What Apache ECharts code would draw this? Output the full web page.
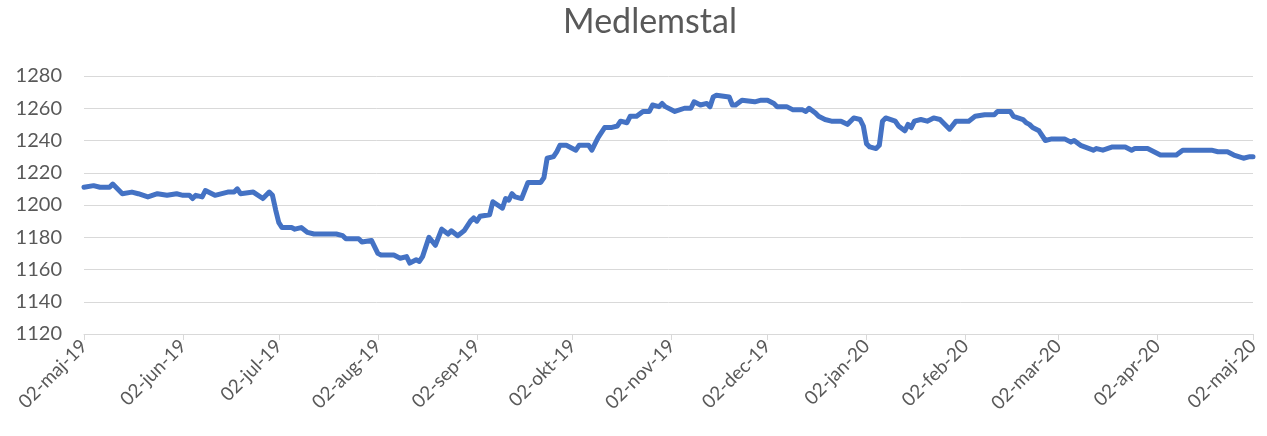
<!DOCTYPE html>
<html>
<head>
    <meta charset="utf-8">
    <script src="https://cdn.jsdelivr.net/npm/echarts@6/dist/echarts.min.js"></script>
    <style>body{margin:0}</style>
</head>
<body>
<div id="chart" style="width:1267px;height:436px"></div>
<script type="text/javascript">
    // months in Danish, used for the daily category labels
    var monthNames = ['jan', 'feb', 'mar', 'apr', 'maj', 'jun', 'jul', 'aug', 'sep', 'okt', 'nov', 'dec'];
    var startDate = [2019, 4, 2];   // 02-maj-19
    var dayCount = 367;             // to 02-maj-20

    // readings: days since 02-maj-19 and the member count that day
    var days = [0, 3, 5, 8, 9, 12, 15, 17, 20, 23, 26, 29, 31, 33, 34, 35, 37, 38, 41, 45,
        47, 48, 49, 53, 56, 58, 59, 60, 61, 62, 65, 66, 68, 70, 72, 79, 81, 82, 86, 87,
        90, 92, 93, 97, 99, 101, 102, 104, 105, 106, 108, 110, 112, 114, 115, 117, 119, 121, 122, 123,
        124, 127, 128, 131, 132, 133, 134, 135, 137, 139, 143, 144, 145, 147, 148, 149, 151, 154, 155, 158,
        159, 160, 161, 163, 165, 167, 168, 170, 171, 173, 175, 177, 178, 180, 181, 182, 185, 188, 190, 191,
        193, 195, 196, 197, 198, 202, 203, 204, 206, 210, 212, 214, 216, 217, 220, 222, 225, 226, 227, 229,
        230, 232, 234, 237, 238, 239, 241, 243, 244, 245, 246, 248, 249, 250, 251, 254, 255, 257, 258, 259,
        260, 262, 264, 266, 268, 270, 271, 273, 277, 279, 282, 285, 286, 290, 291, 294, 295, 296, 297, 299,
        301, 303, 307, 309, 310, 312, 316, 317, 319, 322, 326, 328, 329, 333, 337, 342, 344, 353, 355, 358,
        360, 363, 365, 366];
    var members = [1211, 1212, 1211, 1211, 1213, 1207, 1208, 1207, 1205, 1207, 1206, 1207, 1206, 1206, 1204, 1206, 1205, 1209, 1206, 1208,
        1208, 1210, 1207, 1208, 1204, 1208, 1206, 1197, 1189, 1186, 1186, 1185, 1186, 1183, 1182, 1182, 1181, 1179, 1179, 1177,
        1178, 1170, 1169, 1169, 1167, 1168, 1164, 1166, 1165, 1168, 1180, 1175, 1185, 1182, 1184, 1181, 1184, 1190, 1192, 1190,
        1193, 1194, 1202, 1198, 1204, 1203, 1207, 1205, 1204, 1214, 1214, 1217, 1229, 1230, 1233, 1237, 1237, 1234, 1237, 1237,
        1234, 1238, 1242, 1248, 1248, 1249, 1252, 1251, 1255, 1255, 1258, 1258, 1262, 1261, 1263, 1261, 1258, 1260, 1260, 1264,
        1262, 1263, 1261, 1267, 1268, 1267, 1262, 1262, 1265, 1264, 1265, 1265, 1263, 1261, 1261, 1259, 1259, 1258, 1260, 1257,
        1255, 1253, 1252, 1252, 1251, 1250, 1254, 1253, 1249, 1238, 1236, 1235, 1237, 1252, 1254, 1252, 1249, 1246, 1250, 1248,
        1252, 1253, 1252, 1254, 1253, 1249, 1247, 1252, 1252, 1255, 1256, 1256, 1258, 1258, 1255, 1253, 1251, 1250, 1248, 1246,
        1240, 1241, 1241, 1239, 1240, 1237, 1234, 1235, 1234, 1236, 1236, 1234, 1235, 1235, 1231, 1231, 1234, 1234, 1233, 1233,
        1231, 1229, 1230, 1230];

    var yMin = 1120, yMax = 1280, yStep = 20;

    // daily category labels, e.g. 02-maj-19
    var categories = [];
    for (var i = 0; i < dayCount; i++) {
        var d = new Date(startDate[0], startDate[1], startDate[2] + i);
        var dd = ('0' + d.getDate()).slice(-2);
        categories.push(dd + '-' + monthNames[d.getMonth()] + '-' + String(d.getFullYear()).slice(-2));
    }

    var seriesData = [];
    for (var j = 0; j < days.length; j++) {
        seriesData.push([days[j], members[j]]);
    }

    // only the 2nd of every month gets a tick and a label
    var onSecond = function (index, value) {
        return value.slice(0, 2) === '02';
    };

    var myChart = echarts.init(document.getElementById('chart'));
    var option = {
        animation: false,
        textStyle: { fontFamily: 'Lato' },
        title: {
            text: 'Medlemstal',
            left: 645,
            textAlign: 'center',
            top: 0,
            textStyle: { color: '#595959', fontSize: 34, fontWeight: 'normal', fontFamily: 'Lato' }
        },
        grid: { left: 84, right: 14, top: 76, bottom: 102 },
        xAxis: {
            type: 'category',
            data: categories,
            boundaryGap: false,
            axisLine: { lineStyle: { color: '#d9d9d9', width: 1 } },
            axisTick: { interval: onSecond, length: 6, lineStyle: { color: '#d9d9d9' } },
            axisLabel: {
                interval: onSecond,
                rotate: 45,
                color: '#595959',
                fontSize: 19,
                margin: 9
            },
            splitLine: { show: false }
        },
        yAxis: {
            type: 'value',
            min: yMin,
            max: yMax,
            interval: yStep,
            axisLine: { show: false },
            axisTick: { show: false },
            axisLabel: {
                color: '#595959',
                fontSize: 20,
                margin: 22,
                formatter: function (v) { return String(v); }
            },
            splitLine: { lineStyle: { color: '#d9d9d9', width: 1 } }
        },
        series: [{
            type: 'line',
            data: seriesData,
            showSymbol: false,
            lineStyle: { color: '#4472c4', width: 5, cap: 'round', join: 'round' },
            itemStyle: { color: '#4472c4' }
        }]
    };
    myChart.setOption(option);
</script>
</body>
</html>
